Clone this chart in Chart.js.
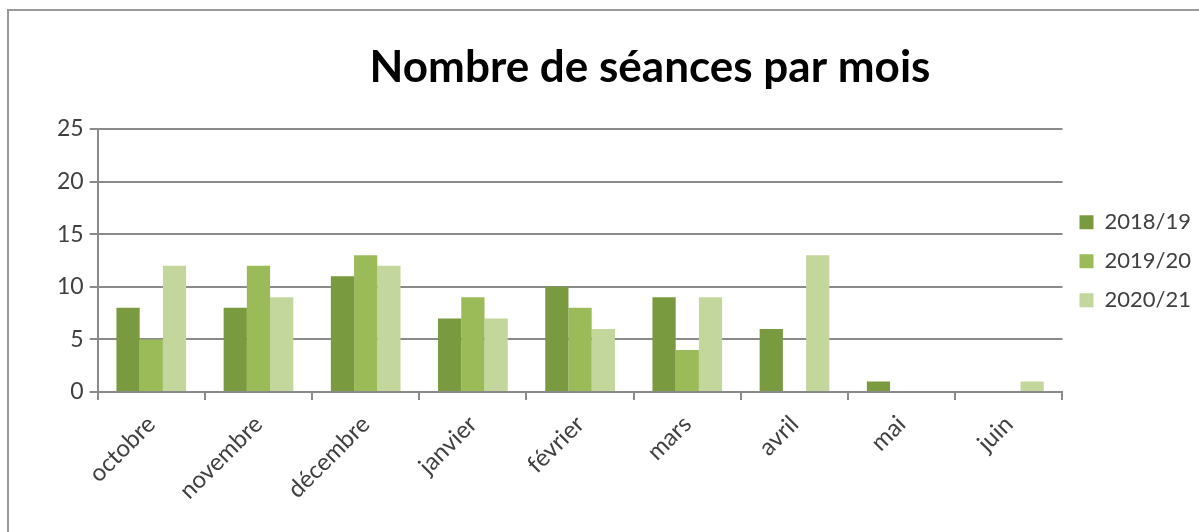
<!DOCTYPE html>
<html>
<head>
<meta charset="utf-8">
<script src="https://cdn.jsdelivr.net/npm/chart.js@4.4.0/dist/chart.umd.min.js"></script>
<style>
  html, body { margin: 0; padding: 0; background: #fff; overflow: hidden; }
  #frame { position: absolute; left: 7px; top: 9px; width: 1300px; height: 600px; border: 2px solid #9a9a9a; }
  #wrap { position: absolute; left: 0; top: 0; width: 1199px; height: 532px; }
</style>
</head>
<body>
<div id="frame"></div>
<div id="wrap"><canvas id="chart"></canvas></div>
<script>
// ---- data ----
const months = ["octobre", "novembre", "décembre", "janvier", "février", "mars", "avril", "mai", "juin"];
const season1819 = [8, 8, 11, 7, 10, 9, 6, 1, 0];
const season1920 = [5, 12, 13, 9, 8, 4, 0, 0, 0];
const season2021 = [12, 9, 12, 7, 6, 9, 13, 0, 1];
const yTicks = [0, 5, 10, 15, 20, 25];

const titleText = "Nombre de séances par mois";
const FONT = "Lato, 'Open Sans', sans-serif";

// title drawn above the plot, centred like the Excel original
const titlePlugin = {
    id: "excelTitle",
    afterDraw(chart) {
        const ctx = chart.ctx;
        ctx.save();
        ctx.font = "bold 44px " + FONT;
        ctx.fillStyle = "#000";
        ctx.textAlign = "center";
        ctx.textBaseline = "alphabetic";
        ctx.fillText(titleText, 650, 82);
        ctx.restore();
    }
};

new Chart(document.getElementById("chart"), {
    type: "bar",
    data: {
        labels: months,
        datasets: [
            { label: "2018/19", data: season1819, backgroundColor: "#7a9a3f" },
            { label: "2019/20", data: season1920, backgroundColor: "#9bbb59" },
            { label: "2020/21", data: season2021, backgroundColor: "#c3d69b" },
        ]
    },
    options: {
        responsive: true,
        maintainAspectRatio: false,
        animation: false,
        layout: { padding: { top: 129, left: 51, right: -2, bottom: 17 } },
        datasets: { bar: { barPercentage: 1, categoryPercentage: 0.65 } },
        plugins: {
            legend: {
                position: "right",
                align: "start",
                // empty title only used to push the entries down next to the bars
                title: { display: true, text: " ", font: { size: 1 }, padding: { top: 0, bottom: 64 } },
                labels: {
                    boxWidth: 14, boxHeight: 14, padding: 17,
                    color: "#404040",
                    font: { family: FONT, size: 22 },
                },
            },
            tooltip: { enabled: false },
            title: { display: false },
        },
        scales: {
            x: {
                grid: { offset: true, drawOnChartArea: false, color: "#8a8a8a", lineWidth: 2, tickLength: 8 },
                border: { color: "#8a8a8a", width: 2 },
                ticks: {
                    minRotation: 45, maxRotation: 45, padding: 10,
                    color: "#404040",
                    font: { family: FONT, size: 24 },
                },
            },
            y: {
                min: 0, max: 25,
                afterBuildTicks: (axis) => { axis.ticks = yTicks.map(v => ({ value: v })); },
                grid: { color: "#8a8a8a", lineWidth: 2, tickLength: 8 },
                border: { color: "#8a8a8a", width: 2 },
                ticks: {
                    color: "#404040", padding: 6,
                    font: { family: FONT, size: 23 },
                },
            },
        },
    },
    plugins: [titlePlugin],
});
</script>
</body>
</html>
